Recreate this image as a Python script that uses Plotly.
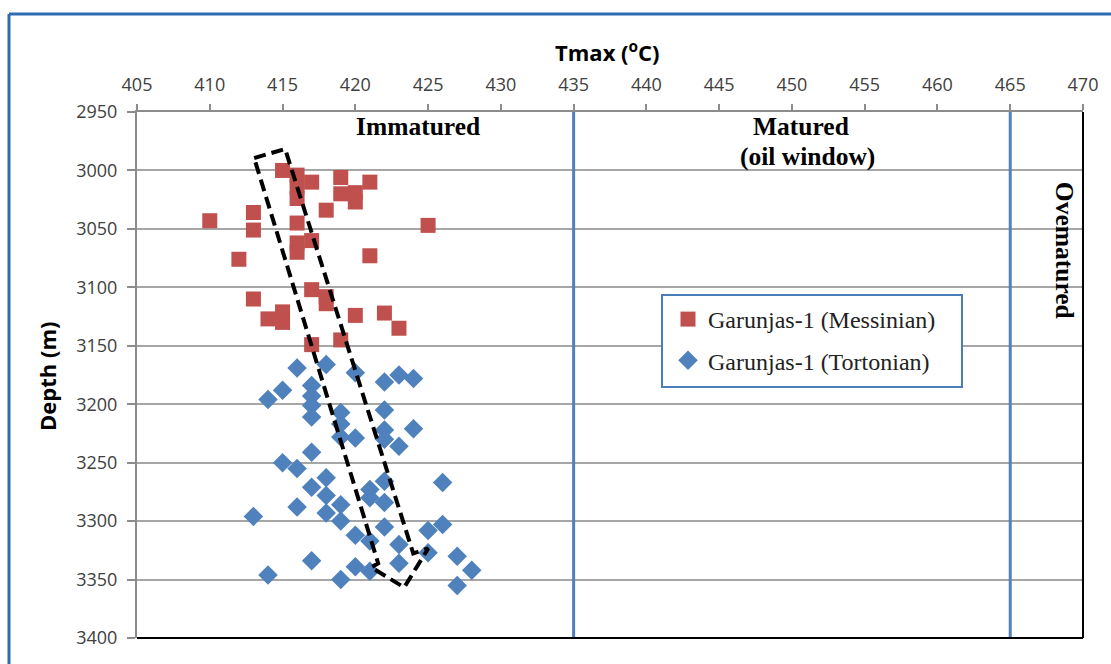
import plotly.graph_objects as go

# ---- data ----
mess_T = [415, 416, 417, 419, 421, 419, 420, 420, 416, 416, 418, 410, 413, 413, 416, 425,
          416, 417, 416, 421, 412, 413, 417, 418, 418, 414, 415, 415, 420, 422, 423, 417, 419]
mess_D = [3000, 3004, 3010, 3006, 3010, 3020, 3019, 3027, 3014, 3024, 3034, 3043, 3036, 3051, 3045, 3047,
          3062, 3060, 3070, 3073, 3076, 3110, 3102, 3108, 3114, 3127, 3121, 3130, 3124, 3122, 3135, 3149, 3145]

tort_T = [416, 418, 420, 422, 423, 424, 415, 414, 417, 417, 417, 417, 419, 422, 419, 422, 424,
          419, 420, 422, 423, 417, 415, 416, 418, 417, 418, 419, 416, 418, 419, 413, 421, 422,
          422, 421, 426, 420, 421, 422, 423, 425, 426, 425, 427, 428, 427, 423, 420, 421, 419,
          417, 414]
tort_D = [3169, 3166, 3173, 3181, 3175, 3178, 3188, 3196, 3184, 3193, 3201, 3211, 3207, 3205, 3217, 3222, 3221,
          3228, 3229, 3230, 3236, 3241, 3250, 3255, 3263, 3271, 3278, 3286, 3288, 3293, 3300, 3296, 3273, 3266,
          3284, 3280, 3267, 3312, 3317, 3305, 3320, 3308, 3303, 3327, 3330, 3342, 3355, 3336, 3339, 3343, 3350,
          3334, 3346]

trend_T = [413.05, 415.18, 423.98, 425.01, 423.36, 421.09, 421.57, 413.05]
trend_D = [2989.4, 2981.7, 3327.6, 3323.3, 3356.7, 3339.6, 3336.1, 2989.4]

limit_T = [435, 465]
depth_range = [2950, 3400]
x_ticks = list(range(405, 471, 5))
y_ticks = list(range(2950, 3401, 50))

RED = "#C0504D"
BLUE = "#4F81BD"
GRID = "#A6A6A6"
AXIS = "#8C8C8C"
SERIF = "Liberation Serif"
SANS = "Open Sans"

fig = go.Figure()

for t in limit_T:
    fig.add_trace(go.Scatter(x=[t, t], y=depth_range, mode="lines",
                             line=dict(color=BLUE, width=3), showlegend=False, hoverinfo="skip"))

fig.add_trace(go.Scatter(x=mess_T, y=mess_D, mode="markers", name="Garunjas-1 (Messinian)",
                         legendgroup="a",
                         marker=dict(symbol="square", size=15, color=RED, line=dict(width=0))))
fig.add_trace(go.Scatter(x=tort_T, y=tort_D, mode="markers", name="Garunjas-1 (Tortonian)",
                         legendgroup="b",
                         marker=dict(symbol="diamond", size=15, color=BLUE, line=dict(width=0))))

fig.add_trace(go.Scatter(x=trend_T, y=trend_D, mode="lines",
                         line=dict(color="black", width=4, dash="12px,6px"),
                         showlegend=False, hoverinfo="skip"))

L, R, T, B = 137, 28, 112, 26
W, H = 1111, 664
pw, ph = W - L - R, H - T - B


def px2paper_x(px):
    return (px - L) / pw


def px2paper_y(py):
    return 1 - (py - T) / ph


shapes = [
    # outer frame
    dict(type="line", xref="paper", yref="paper", x0=px2paper_x(9), x1=px2paper_x(1120),
         y0=px2paper_y(14), y1=px2paper_y(14), line=dict(color="#2E6DB4", width=3)),
    dict(type="line", xref="paper", yref="paper", x0=px2paper_x(9), x1=px2paper_x(9),
         y0=px2paper_y(14), y1=px2paper_y(680), line=dict(color="#2E6DB4", width=3)),
    # bottom / right border of plot area
    dict(type="line", xref="paper", yref="paper", x0=0, x1=1, y0=0, y1=0,
         line=dict(color="black", width=2)),
    dict(type="line", xref="paper", yref="paper", x0=1, x1=1, y0=0, y1=1,
         line=dict(color="black", width=2)),
    # legend box
    dict(type="rect", xref="paper", yref="paper", x0=px2paper_x(662), x1=px2paper_x(962),
         y0=px2paper_y(387), y1=px2paper_y(295), fillcolor="white",
         line=dict(color="#4A7EBB", width=2), layer="above"),
]

ZF = 25.5
annotations = [
    dict(text="<b>Immatured</b>", x=424.3, y=2962, xref="x", yref="y", showarrow=False,
         font=dict(family=SERIF, size=ZF, color="black"), xanchor="center", yanchor="middle"),
    dict(text="<b>Matured</b>", x=450.6, y=2962, xref="x", yref="y", showarrow=False,
         font=dict(family=SERIF, size=ZF, color="black"), xanchor="center", yanchor="middle"),
    dict(text="<b>(oil window)</b>", x=451.1, y=2988, xref="x", yref="y", showarrow=False,
         font=dict(family=SERIF, size=ZF, color="black"), xanchor="center", yanchor="middle"),
    dict(text="<b>Ovematured</b>", x=468.7, y=3068, xref="x", yref="y", showarrow=False,
         textangle=90, font=dict(family=SERIF, size=ZF, color="black"),
         xanchor="center", yanchor="middle"),
    dict(text="<b>Tmax (<sup>o</sup>C)</b>", x=px2paper_x(607), y=px2paper_y(51),
         xref="paper", yref="paper", showarrow=False,
         font=dict(family=SANS, size=22, color="black"), xanchor="center", yanchor="middle"),
    dict(text="<b>Depth (m)</b>", x=px2paper_x(47), y=px2paper_y(377),
         xref="paper", yref="paper", showarrow=False, textangle=-90,
         font=dict(family=SANS, size=22, color="black"), xanchor="center", yanchor="middle"),
]

fig.update_layout(
    width=W, height=H,
    margin=dict(l=L, r=R, t=T, b=B, pad=0),
    paper_bgcolor="white", plot_bgcolor="white",
    shapes=shapes, annotations=annotations,
    showlegend=True,
    legend=dict(x=px2paper_x(668), y=px2paper_y(297), xanchor="left", yanchor="top",
                bgcolor="rgba(0,0,0,0)", borderwidth=0, tracegroupgap=7,
                font=dict(family=SERIF, size=24, color="#222222")),
    xaxis=dict(side="top", range=[405, 470], tickvals=x_ticks, ticktext=[str(v) for v in x_ticks],
               showgrid=False, zeroline=False, showline=True, linecolor=AXIS, linewidth=2,
               ticks="outside", ticklen=6, tickwidth=2, tickcolor=AXIS, ticklabelstandoff=6,
               tickfont=dict(family=SANS, size=18, color="#404040")),
    yaxis=dict(range=[3400, 2950], tickvals=y_ticks, ticktext=[str(v) for v in y_ticks],
               showgrid=True, gridcolor=GRID, gridwidth=2, zeroline=False,
               showline=True, linecolor=AXIS, linewidth=2,
               ticks="outside", ticklen=8, tickwidth=2, tickcolor=AXIS, ticklabelstandoff=6,
               tickfont=dict(family=SANS, size=18, color="#404040")),
)

fig.write_html("out.html")
